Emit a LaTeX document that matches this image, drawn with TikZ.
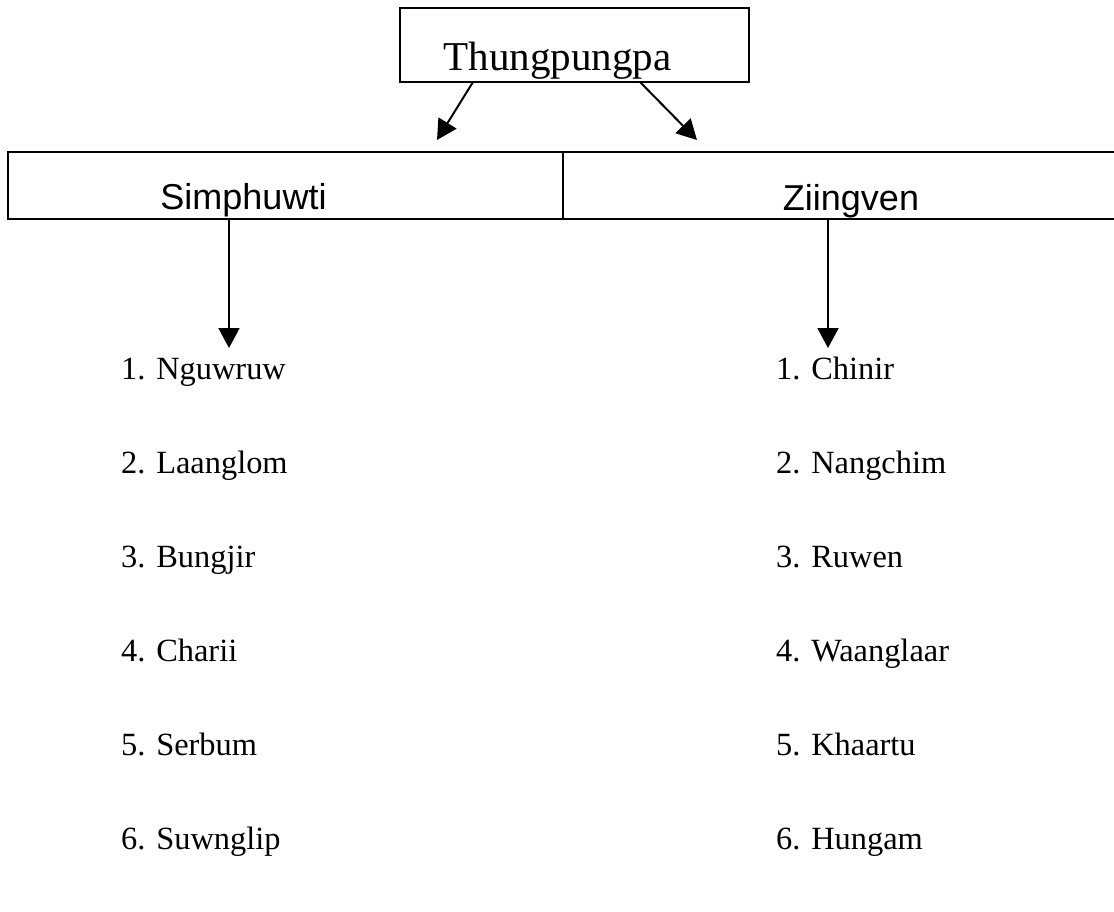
\documentclass[tikz,border=0pt]{standalone}
\usepackage{fontspec}
\setmainfont{Liberation Serif}
\newfontfamily\arialf{Liberation Sans}
\usetikzlibrary{arrows.meta,calc}
\begin{document}
\begin{tikzpicture}[x=1pt,y=-1pt,
  box/.style={draw,line width=1.3pt,inner sep=0pt,outer sep=0pt},
  conn/.style={line width=2pt,-{Triangle[length=20pt,width=21pt]}},
  item/.style={anchor=base west,inner sep=0pt,font=\fontsize{32.4}{36}\selectfont},
  sans/.style={anchor=base,inner sep=0pt,font=\arialf\fontsize{36}{40}\selectfont}]
\useasboundingbox (0,0) rectangle (1114,911);
\fill[white] (0,0) rectangle (1114,911);
% top box
\node[box,minimum width=349pt,minimum height=74pt] (top) at (574.5,45) {};
\node[anchor=base,inner sep=0pt,font=\fontsize{41}{46}\selectfont] (toptext) at (557.5,70) {Thungpungpa};
% second level
\node[box,minimum width=555pt,minimum height=67pt] (left) at (285.5,185.5) {};
\node[box,minimum width=557pt,minimum height=67pt] (right) at (841.5,185.5) {};
\node[sans] (simp) at (243.5,209) {Simphuwti};
\node[sans] (ziin) at (851,210) {Ziingven};
% arrows
\coordinate (la) at (437,140);
\coordinate (ra) at (697,140);
\draw[conn] ([xshift=73pt]top.south west) -- (la);
\draw[conn] ([xshift=240pt]top.south west) -- (ra);
\coordinate (lv) at (229,348);
\coordinate (rv) at (828,348);
\draw[conn] ([xshift=221pt]left.south west) -- (lv);
\draw[conn] ([xshift=265pt]right.south west) -- (rv);
% lists
\node[item] (l1) at (121,379) {1. Nguwruw};
\node[item] (l2) at (121,473) {2. Laanglom};
\node[item] (l3) at (121,567) {3. Bungjir};
\node[item] (l4) at (121,661) {4. Charii};
\node[item] (l5) at (121,755) {5. Serbum};
\node[item] (l6) at (121,849) {6. Suwnglip};
\node[item] (r1) at (776,379) {1. Chinir};
\node[item] (r2) at (776,473) {2. Nangchim};
\node[item] (r3) at (776,567) {3. Ruwen};
\node[item] (r4) at (776,661) {4. Waanglaar};
\node[item] (r5) at (776,755) {5. Khaartu};
\node[item] (r6) at (776,849) {6. Hungam};
\end{tikzpicture}
\end{document}
